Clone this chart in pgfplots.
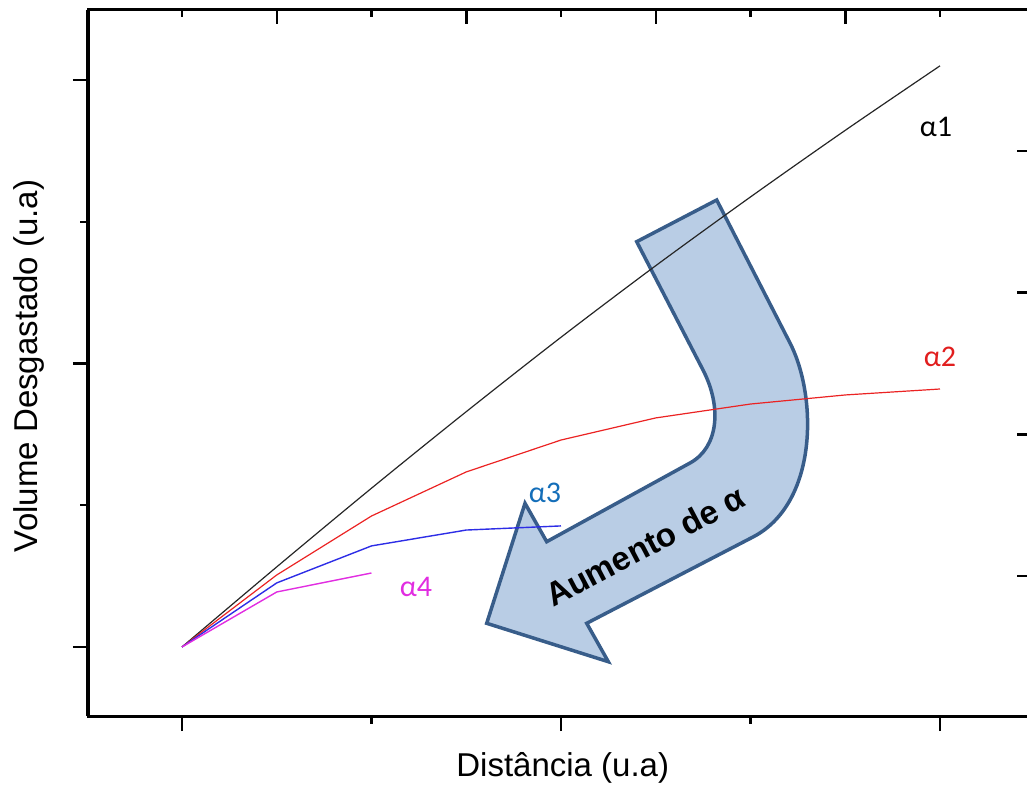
\documentclass[border=0pt]{standalone}
\usepackage{fontspec}
\setmainfont{Liberation Sans}
\newfontfamily\calibri{Carlito}
\usepackage{pgfplots}
\pgfplotsset{compat=1.18}

\definecolor{arrowfill}{RGB}{185,205,229}
\definecolor{arrowedge}{RGB}{56,93,138}
\definecolor{cRed}{RGB}{235,35,35}
\definecolor{cBlue}{RGB}{45,45,230}
\definecolor{cMag}{RGB}{225,45,225}
\definecolor{lblBlue}{RGB}{20,110,185}
\definecolor{lblRed}{RGB}{225,30,30}

\tikzset{px/.style={x=0.5pt, y=-0.5pt, shift={(0pt,393.5pt)}}}

\begin{document}
\begin{tikzpicture}
\useasboundingbox (0pt,0pt) rectangle (513.5pt,393.5pt);
\clip (0pt,0pt) rectangle (513.5pt,393.5pt);

% curved block arrow behind the curves
\begin{scope}[px]
\draw[arrowedge, fill=arrowfill, line width=1.75pt, line join=miter]
  (716.7,200) -- (636.7,241.7) -- (703,370)
  .. controls (722,407) and (718.7,447.3) .. (690,463)
  -- (546.7,541.7) -- (525,503.3) -- (486.7,623.3) -- (608.3,661.7)
  -- (586.7,623.3) -- (753,537)
  .. controls (817.7,503.4) and (817.7,397.3) .. (790,343) -- cycle;
\node[rotate=27.7, font=\bfseries\fontsize{16.5}{18}\selectfont] at (645,546) {Aumento de α};
\end{scope}

% secondary frame: top and right, ticks pointing inward
\begin{axis}[
  at={(44pt,35.5pt)}, anchor=south west,
  scale only axis, width=471pt, height=353pt,
  xmin=-0.496, xmax=4.475, ymin=-0.487, ymax=4.494,
  axis line style={line width=1.5pt},
  xtick=\empty, ytick pos=upper,
  ytick={0.5,1.5,2.5,3.5},
  yticklabels={},
  tick align=inside,
  major tick length=6.5pt,
  tick style={black, line width=1.2pt},
]
\addplot[draw=none] coordinates {(0,0)};
\end{axis}

% main axis: bottom and left
\begin{axis}[
  at={(44pt,35.5pt)}, anchor=south west,
  scale only axis, width=471pt, height=353pt,
  xmin=-0.496, xmax=4.475, ymin=-0.487, ymax=4.494,
  axis x line*=bottom, axis y line*=left,
  axis line style={line width=1.5pt, -},
  xtick={0,2,4}, minor xtick={1,3},
  ytick={0,2,4}, minor ytick={1,3},
  xticklabels={}, yticklabels={},
  tick align=outside,
  major tick length=7.5pt, minor tick length=3.8pt,
  tick style={black, line width=1.2pt},
  xlabel={Distância (u.a)},
  ylabel={Volume Desgastado (u.a)},
  xlabel style={font=\fontsize{16.5}{20}\selectfont, at={(axis description cs:0.504,-0.0864)}, anchor=base},
  ylabel style={font=\fontsize{16.5}{20}\selectfont, at={(axis description cs:-0.0541,0.496)}, anchor=base, rotate=0},
]
\addplot[black!85, line width=0.6pt, smooth, tension=0.5] coordinates {
  (0,0) (0.5,0.565) (1,1.12) (1.5,1.66) (2,2.185) (2.5,2.69) (3,3.175) (3.5,3.645) (4,4.10)};
\addplot[cRed, line width=0.6pt] coordinates {
  (0,0) (0.5,0.508) (1,0.924) (1.5,1.235) (2,1.46) (2.5,1.616) (3,1.714) (3.5,1.778) (4,1.82)};
\addplot[cBlue, line width=0.7pt] coordinates {
  (0,0) (0.5,0.452) (1,0.713) (1.5,0.825) (2,0.854)};
\addplot[cMag, line width=0.7pt] coordinates {
  (0,0) (0.5,0.388) (1,0.522)};
\end{axis}

% top-edge tick marks (absolute page units): long at half steps, short at whole steps
\fill[black] (137.75pt,388.5pt) rectangle (138.95pt,381.5pt);
\fill[black] (232.55pt,388.5pt) rectangle (233.75pt,381.5pt);
\fill[black] (327.30pt,388.5pt) rectangle (328.50pt,381.5pt);
\fill[black] (422.05pt,388.5pt) rectangle (423.25pt,381.5pt);
\fill[black] (90.40pt,388.5pt) rectangle (91.60pt,384.9pt);
\fill[black] (185.15pt,388.5pt) rectangle (186.35pt,384.9pt);
\fill[black] (279.90pt,388.5pt) rectangle (281.10pt,384.9pt);
\fill[black] (374.65pt,388.5pt) rectangle (375.85pt,384.9pt);
\fill[black] (469.40pt,388.5pt) rectangle (470.60pt,384.9pt);

% curve labels
\begin{scope}[px]
\node[font=\calibri\fontsize{15}{18}\selectfont] at (936,127) {α1};
\node[font=\calibri\fontsize{15}{18}\selectfont, text=lblRed] at (940,357) {α2};
\node[font=\calibri\fontsize{15}{18}\selectfont, text=lblBlue] at (545,493) {α3};
\node[font=\calibri\fontsize{15}{18}\selectfont, text=cMag] at (416,587) {α4};
\end{scope}
\end{tikzpicture}
\end{document}
